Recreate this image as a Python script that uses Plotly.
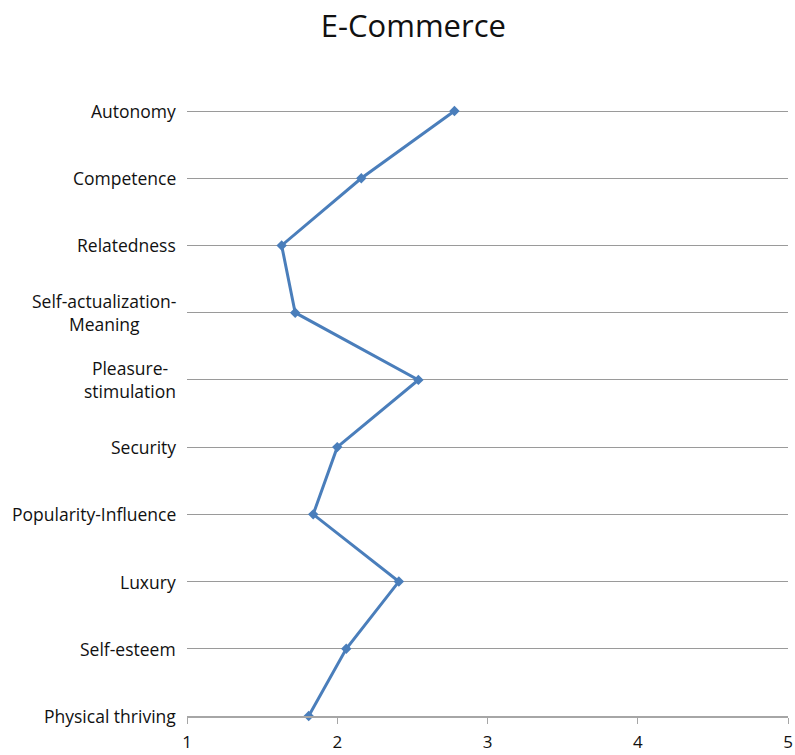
import plotly.graph_objects as go

# Motivational needs, listed bottom-to-top along the category axis
categories = [
    "Physical thriving",
    "Self-esteem",
    "Luxury",
    "Popularity-Influence",
    "Security",
    "Pleasure-<br>stimulation",
    "Self-actualization-<br>Meaning",
    "Relatedness",
    "Competence",
    "Autonomy",
]
scores = [1.81, 2.06, 2.41, 1.84, 2.00, 2.54, 1.72, 1.63, 2.16, 2.78]
x_ticks = [1, 2, 3, 4, 5]

LINE_BLUE = "#4a7ebb"
FONT = "'Open Sans', Lato, sans-serif"

fig = go.Figure()
fig.add_trace(go.Scatter(
    x=scores,
    y=list(range(len(categories))),
    mode="lines+markers",
    line=dict(color=LINE_BLUE, width=3),
    marker=dict(symbol="diamond", size=8, color=LINE_BLUE),
    showlegend=False,
    cliponaxis=False,
    hovertext=categories,
))

# Category labels, centered per line and placed left of the plot
for i, name in enumerate(categories):
    fig.add_annotation(
        x=0, xref="paper", y=i, yref="y",
        text=name, showarrow=False,
        xanchor="right", yanchor="middle", align="center",
        xshift=-9,
        font=dict(family=FONT, size=17.5, color="#111111"),
    )

fig.update_layout(
    width=795, height=755,
    margin=dict(l=187, r=7, t=109, b=39, autoexpand=False),
    paper_bgcolor="white",
    plot_bgcolor="white",
    title=dict(
        text="E-Commerce",
        x=0.52, xanchor="center",
        y=1 - 26 / 755, yanchor="middle",
        font=dict(family=FONT, size=31, color="#111111"),
    ),
    font=dict(family=FONT, size=17, color="#111111"),
)

fig.update_xaxes(
    range=[1, 5],
    tickvals=x_ticks,
    ticktext=[str(v) for v in x_ticks],
    showgrid=False,
    zeroline=False,
    showline=True,
    linecolor="#a6a6a6",
    linewidth=1.5,
    ticks="outside",
    ticklen=6,
    tickcolor="#a6a6a6",
    ticklabelstandoff=4,
    automargin=False,
    tickfont=dict(family=FONT, size=17, color="#111111"),
)

fig.update_yaxes(
    range=[0, len(categories) - 1 + 0.03],
    tickvals=list(range(len(categories))),
    showticklabels=False,
    showgrid=True,
    gridcolor="#9a9a9a",
    gridwidth=1.2,
    zeroline=False,
    showline=False,
    ticks="",
    automargin=False,
)

fig.write_html("out.html")
